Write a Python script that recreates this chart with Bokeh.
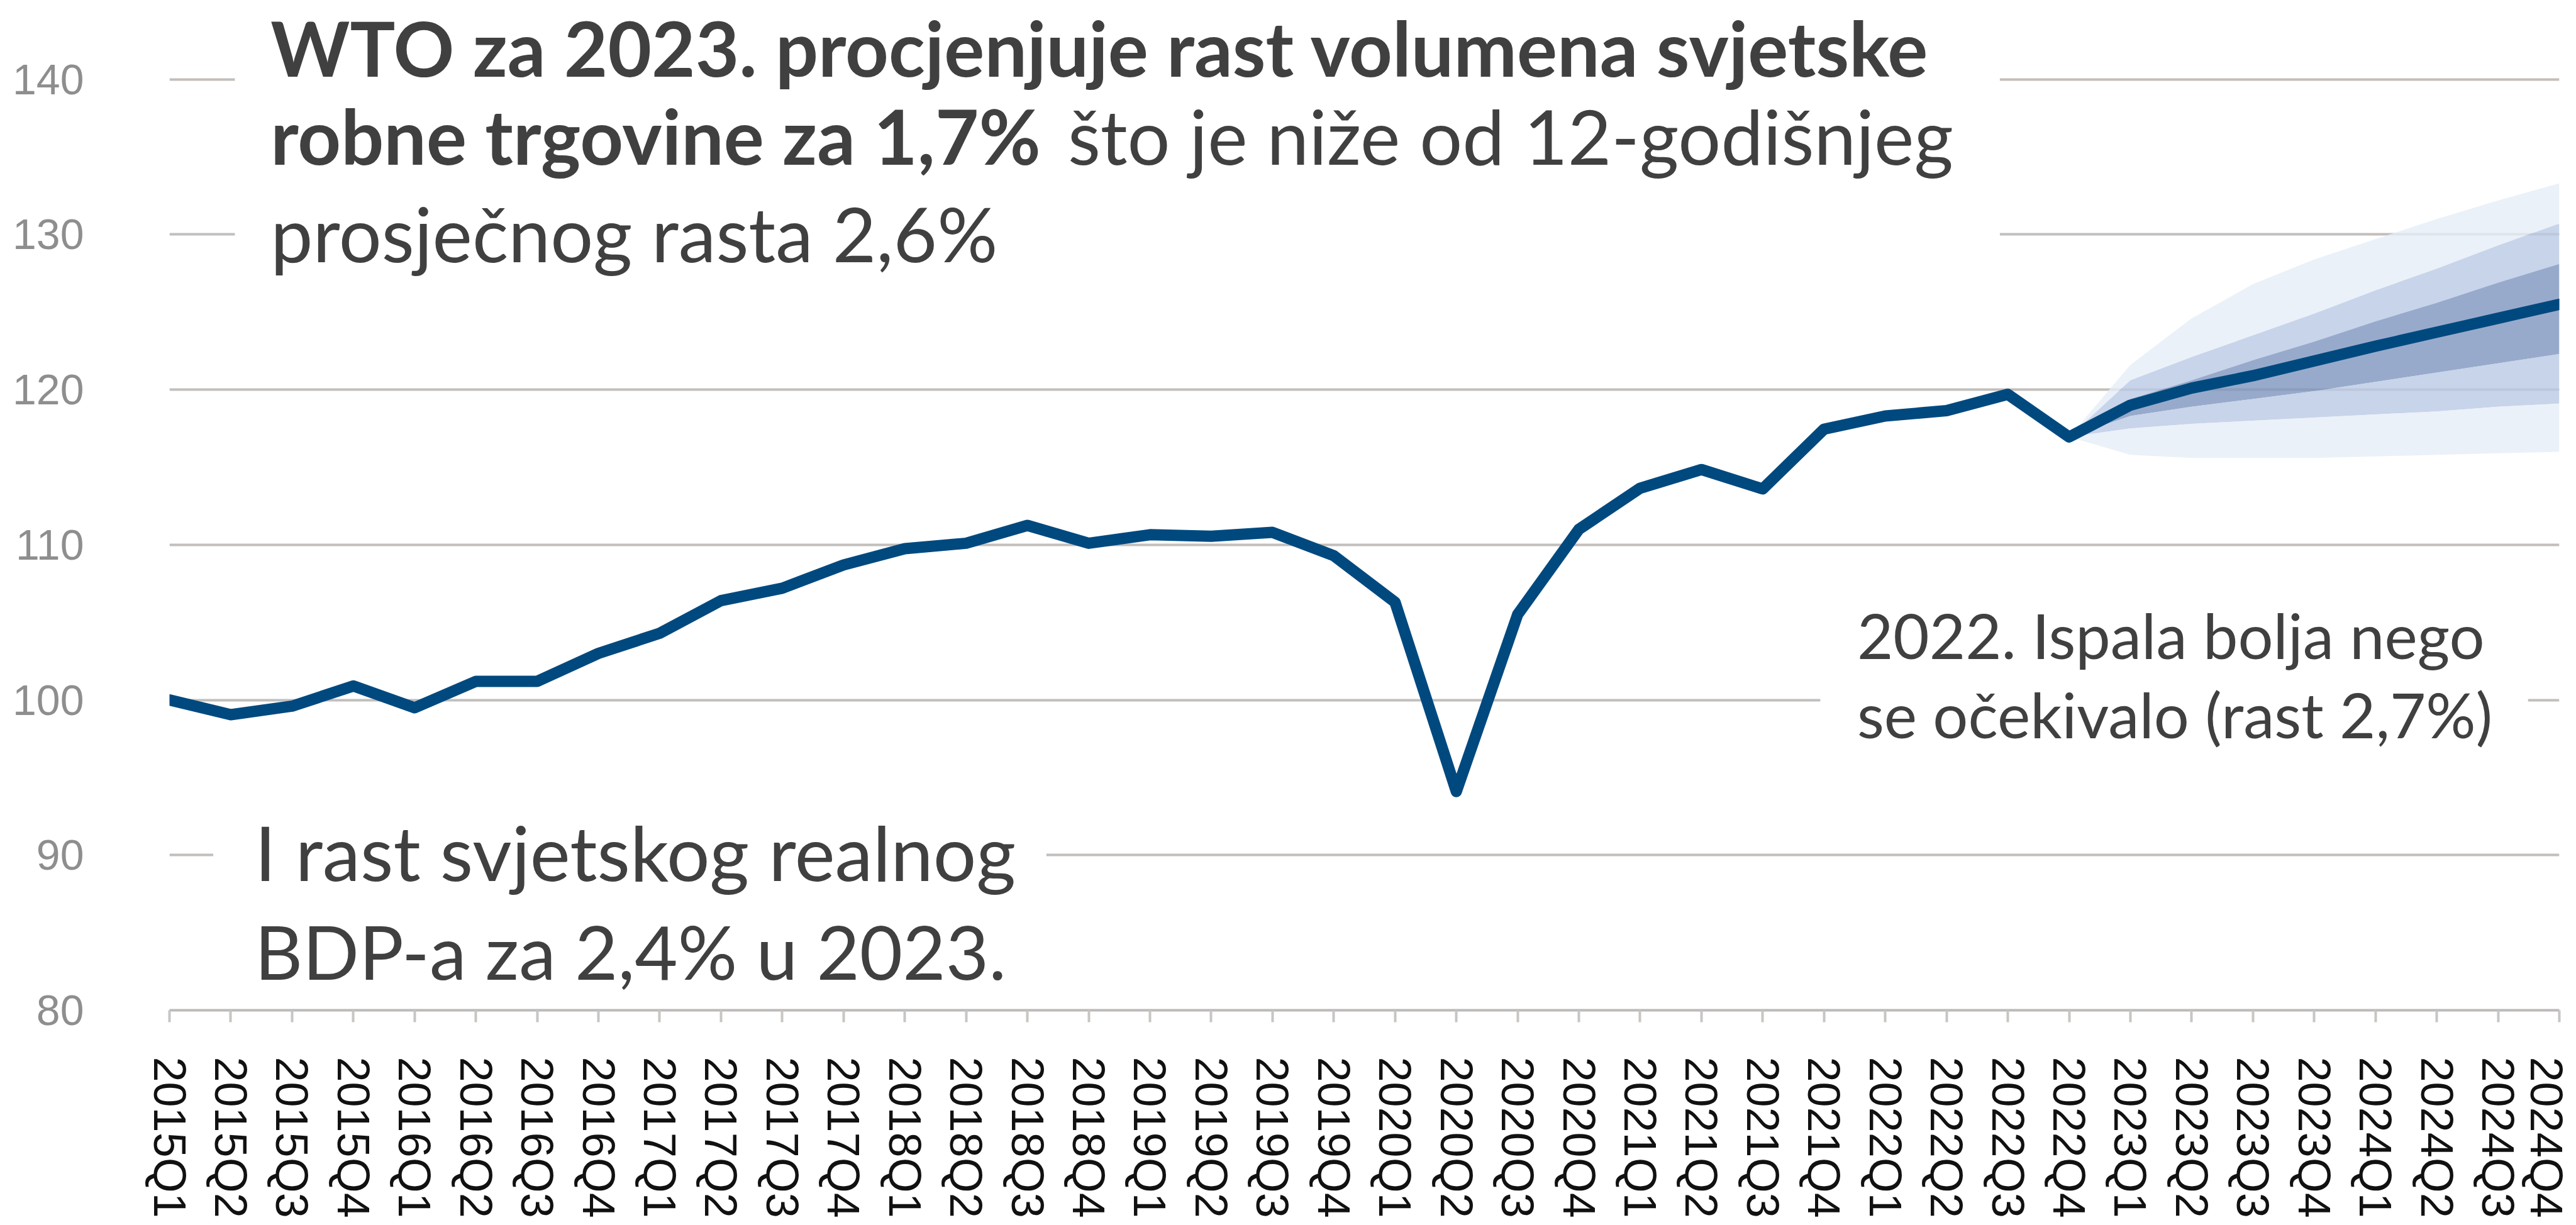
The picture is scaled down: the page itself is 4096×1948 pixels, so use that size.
from bokeh.plotting import figure
from bokeh.models import Range1d, FixedTicker, Label, BoxAnnotation
from bokeh.embed import file_html
from bokeh.resources import INLINE

# ---------------- data ----------------
quarters = [
    "2015Q1", "2015Q2", "2015Q3", "2015Q4",
    "2016Q1", "2016Q2", "2016Q3", "2016Q4",
    "2017Q1", "2017Q2", "2017Q3", "2017Q4",
    "2018Q1", "2018Q2", "2018Q3", "2018Q4",
    "2019Q1", "2019Q2", "2019Q3", "2019Q4",
    "2020Q1", "2020Q2", "2020Q3", "2020Q4",
    "2021Q1", "2021Q2", "2021Q3", "2021Q4",
    "2022Q1", "2022Q2", "2022Q3", "2022Q4",
    "2023Q1", "2023Q2", "2023Q3", "2023Q4",
    "2024Q1", "2024Q2", "2024Q3", "2024Q4",
]

trade_volume = [
    100.0, 99.05, 99.6, 100.9,
    99.5, 101.2, 101.2, 103.0,
    104.3, 106.4, 107.2, 108.7,
    109.75, 110.1, 111.25, 110.1,
    110.65, 110.55, 110.8, 109.3,
    106.3, 94.1, 105.5, 111.0,
    113.65, 114.85, 113.6, 117.45,
    118.3, 118.65, 119.7, 116.95,
    119.0, 120.1, 120.9, 121.85,
    122.8, 123.7, 124.6, 125.5,
]

forecast_quarters = ["2022Q4", "2023Q1", "2023Q2", "2023Q3", "2023Q4",
                     "2024Q1", "2024Q2", "2024Q3", "2024Q4"]
outer_high = [116.95, 121.6, 124.6, 126.8, 128.4, 129.7, 131.0, 132.2, 133.3]
mid_high   = [116.95, 120.6, 122.1, 123.5, 124.9, 126.4, 127.8, 129.3, 130.7]
inner_high = [116.95, 119.4, 120.6, 121.9, 123.1, 124.4, 125.6, 126.9, 128.1]
inner_low  = [116.95, 118.3, 118.9, 119.4, 119.9, 120.5, 121.1, 121.7, 122.3]
mid_low    = [116.95, 117.5, 117.8, 118.0, 118.2, 118.4, 118.6, 118.9, 119.1]
outer_low  = [116.95, 115.8, 115.6, 115.6, 115.6, 115.7, 115.8, 115.9, 116.0]

y_ticks = [80, 90, 100, 110, 120, 130, 140]

title_bold_1 = "WTO za 2023. procjenjuje rast volumena svjetske"
title_bold_2 = "robne trgovine za 1,7%"
title_reg_2 = "što je niže od 12-godišnjeg"
title_reg_3 = "prosječnog rasta 2,6%"
gdp_lines = ["I rast svjetskog realnog", "BDP-a za 2,4% u 2023."]
note_lines = ["2022. Ispala bolja nego", "se očekivalo (rast 2,7%)"]

# ---------------- figure ----------------
x_idx = list(range(len(quarters)))
xf = [quarters.index(q) for q in forecast_quarters]

PX_PER_UNIT = 1598 / (144.77 - 80)

p = figure(
    frame_width=3800, frame_height=1598,
    x_range=Range1d(0, len(quarters) - 1),
    y_range=Range1d(80, 144.77),
    output_backend="svg", toolbar_location=None,
    min_border_left=269, min_border_right=19,
    min_border_top=8, min_border_bottom=334,
    background_fill_color="white", border_fill_color="white",
)
p.outline_line_color = None

# grid
p.xgrid.visible = False
p.ygrid.ticker = FixedTicker(ticks=y_ticks)
p.ygrid.grid_line_color = "#C2BEBB"
p.ygrid.grid_line_width = 4

# y axis
p.yaxis.ticker = FixedTicker(ticks=y_ticks)
p.yaxis.axis_line_color = None
p.yaxis.major_tick_line_color = None
p.yaxis.minor_tick_line_color = None
p.yaxis.major_label_text_font = "Liberation Sans"
p.yaxis.major_label_text_font_size = "68px"
p.yaxis.major_label_text_color = "#8E8E8E"
p.yaxis.major_label_standoff = 130

# x axis
p.xaxis.ticker = FixedTicker(ticks=x_idx)
p.xaxis.major_label_overrides = {i: q for i, q in zip(x_idx, quarters)}
p.xaxis.major_label_orientation = "vertical"
p.xaxis.major_label_text_font = "Liberation Sans"
p.xaxis.major_label_text_font_size = "72px"
p.xaxis.major_label_text_color = "#111111"
p.xaxis.axis_line_color = "#BDB9B6"
p.xaxis.axis_line_width = 4
p.xaxis.major_tick_line_color = "#C8C5C2"
p.xaxis.major_tick_line_width = 4
p.xaxis.major_tick_out = 19
p.xaxis.major_tick_in = 0
p.xaxis.minor_tick_line_color = None
p.xaxis.major_label_standoff = 55

# fan chart bands (non-overlapping strips)
band_alpha = 0.8
p.varea(x=xf, y1=mid_high, y2=outer_high, fill_color="#E6EDF7", fill_alpha=band_alpha)
p.varea(x=xf, y1=inner_high, y2=mid_high, fill_color="#BAC9E5", fill_alpha=band_alpha)
p.varea(x=xf, y1=inner_low, y2=inner_high, fill_color="#7E95BE", fill_alpha=band_alpha)
p.varea(x=xf, y1=mid_low, y2=inner_low, fill_color="#BAC9E5", fill_alpha=band_alpha)
p.varea(x=xf, y1=outer_low, y2=mid_low, fill_color="#E6EDF7", fill_alpha=band_alpha)

# main line
p.line(x=x_idx, y=trade_volume, line_color="#00497F", line_width=18,
       line_join="round", line_cap="round")

# white text boxes
for (l, r, t, b) in [(1.067, 29.87, 146.0, 126.8),
                     (0.714, 14.31, 92.0, 80.25),
                     (26.94, 38.49, 105.8, 96.1)]:
    p.add_layout(BoxAnnotation(left=l, right=r, top=t, bottom=b,
                               fill_color="white", fill_alpha=1.0,
                               line_color=None))

TXT = "#404040"
FONT = "Lato"


def lab(x, y, text, size, bold=False):
    # raise by an empirical baseline correction
    y_adj = y + 0.44 * size / PX_PER_UNIT
    p.add_layout(Label(x=x, y=y_adj, text=text, text_font=FONT,
                       text_font_style="bold" if bold else "normal",
                       text_font_size=f"{size}px", text_color=TXT,
                       text_baseline="alphabetic", text_align="left"))


lab(1.65, 139.9, title_bold_1, 120, True)
lab(1.65, 134.2, title_bold_2, 120, True)
lab(14.66, 134.2, title_reg_2, 120)
lab(1.65, 127.94, title_reg_3, 120)

lab(1.39, 88.04, gdp_lines[0], 121)
lab(1.39, 81.70, gdp_lines[1], 118)

lab(27.54, 102.45, note_lines[0], 99)
lab(27.54, 97.32, note_lines[1], 99)

open("out.html", "w").write(file_html(p, INLINE))
